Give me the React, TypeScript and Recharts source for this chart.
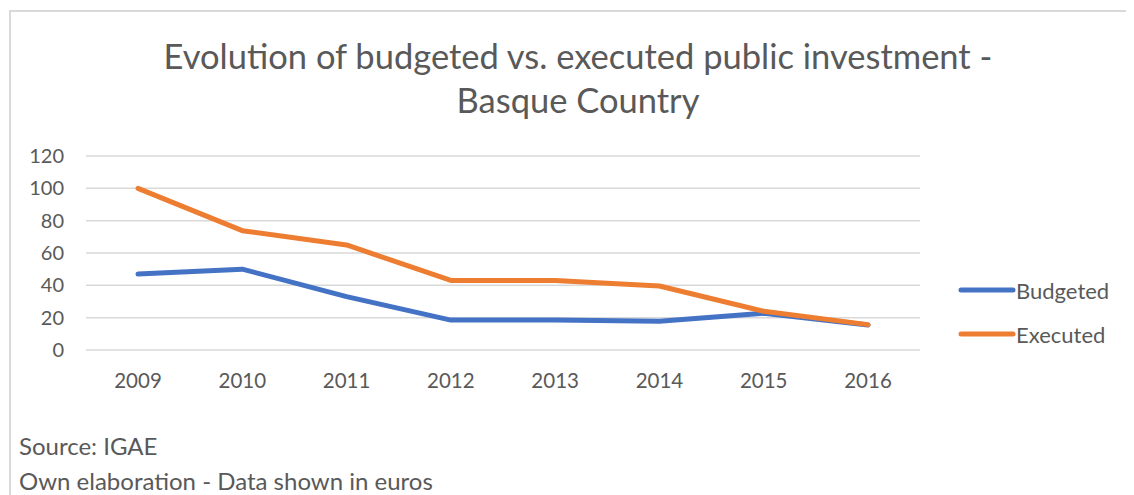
import React from "react";
import { LineChart, Line, XAxis, YAxis, CartesianGrid } from "recharts";

const years = ["2009", "2010", "2011", "2012", "2013", "2014", "2015", "2016"];
const budgeted = [47, 50, 33, 18.5, 18.5, 17.8, 22.7, 15.5];
const executed = [100, 73.8, 65, 43, 43, 39.6, 24, 15.7];
const yTicks = [0, 20, 40, 60, 80, 100, 120];
const seriesNames = ["Budgeted", "Executed"];
const seriesColors = ["#4472C4", "#ED7D31"];
const titleLines = ["Evolution of budgeted vs. executed public investment -", "Basque Country"];
const footerLines = ["Source: IGAE", "Own elaboration - Data shown in euros"];

const data = years.map((y, i) => ({ year: y, Budgeted: budgeted[i], Executed: executed[i] }));

const FONT = "Lato, 'Open Sans', sans-serif";
const TXT = "#595959";

export default function App() {
  return (
    <div
      style={{
        position: "relative",
        width: 1126,
        height: 487,
        marginTop: 2,
        marginLeft: 1,
        borderLeft: "2px solid #d9d9d9",
        borderTop: "2px solid #d9d9d9",
        boxSizing: "border-box",
        fontFamily: FONT,
        color: TXT,
      }}
    >
      <div style={{ position: "absolute", left: 0, top: 0 }}>
        <LineChart
          width={1124}
          height={414}
          data={data}
          margin={{ top: 144, right: 215, bottom: 0, left: 0 }}
        >
          <CartesianGrid vertical={false} stroke="#d9d9d9" strokeWidth={1.5} />
          <XAxis
            dataKey="year"
            axisLine={false}
            tickLine={false}
            tickSize={0}
            tickMargin={23}
            height={76}
            padding={{ left: 52, right: 52 }}
            tick={{ fill: TXT, fontSize: 20.5, fontFamily: FONT }}
            interval={0}
          />
          <YAxis
            domain={[0, 120]}
            ticks={yTicks}
            axisLine={false}
            tickLine={false}
            tickSize={0}
            tickMargin={22}
            width={75}
            tick={{ fill: TXT, fontSize: 20, fontFamily: FONT }}
          />
          {seriesNames.map((n, i) => (
            <Line
              key={n}
              dataKey={n}
              type="linear"
              stroke={seriesColors[i]}
              strokeWidth={5}
              strokeLinecap="round"
              strokeLinejoin="round"
              dot={false}
              activeDot={false}
              isAnimationActive={false}
            />
          ))}
        </LineChart>
      </div>
      <div
        style={{
          position: "absolute",
          left: 0,
          width: 1134,
          top: 22,
          textAlign: "center",
          fontSize: 34.5,
          lineHeight: "44px",
        }}
      >
        {titleLines.map((t) => (
          <div key={t}>{t}</div>
        ))}
      </div>
      {seriesNames.map((n, i) => (
        <div
          key={n}
          style={{
            position: "absolute",
            left: 947,
            top: 265 + i * 44,
            display: "flex",
            alignItems: "center",
            fontSize: 22,
            height: 26,
          }}
        >
          <svg width={58} height={10} style={{ display: "block" }}>
            <line x1={3} y1={5} x2={55} y2={5} stroke={seriesColors[i]} strokeWidth={5} strokeLinecap="round" />
          </svg>
          <span>{n}</span>
        </div>
      ))}
      <div style={{ position: "absolute", left: 8, top: 416, fontSize: 24, lineHeight: "35px" }}>
        {footerLines.map((t) => (
          <div key={t}>{t}</div>
        ))}
      </div>
    </div>
  );
}
